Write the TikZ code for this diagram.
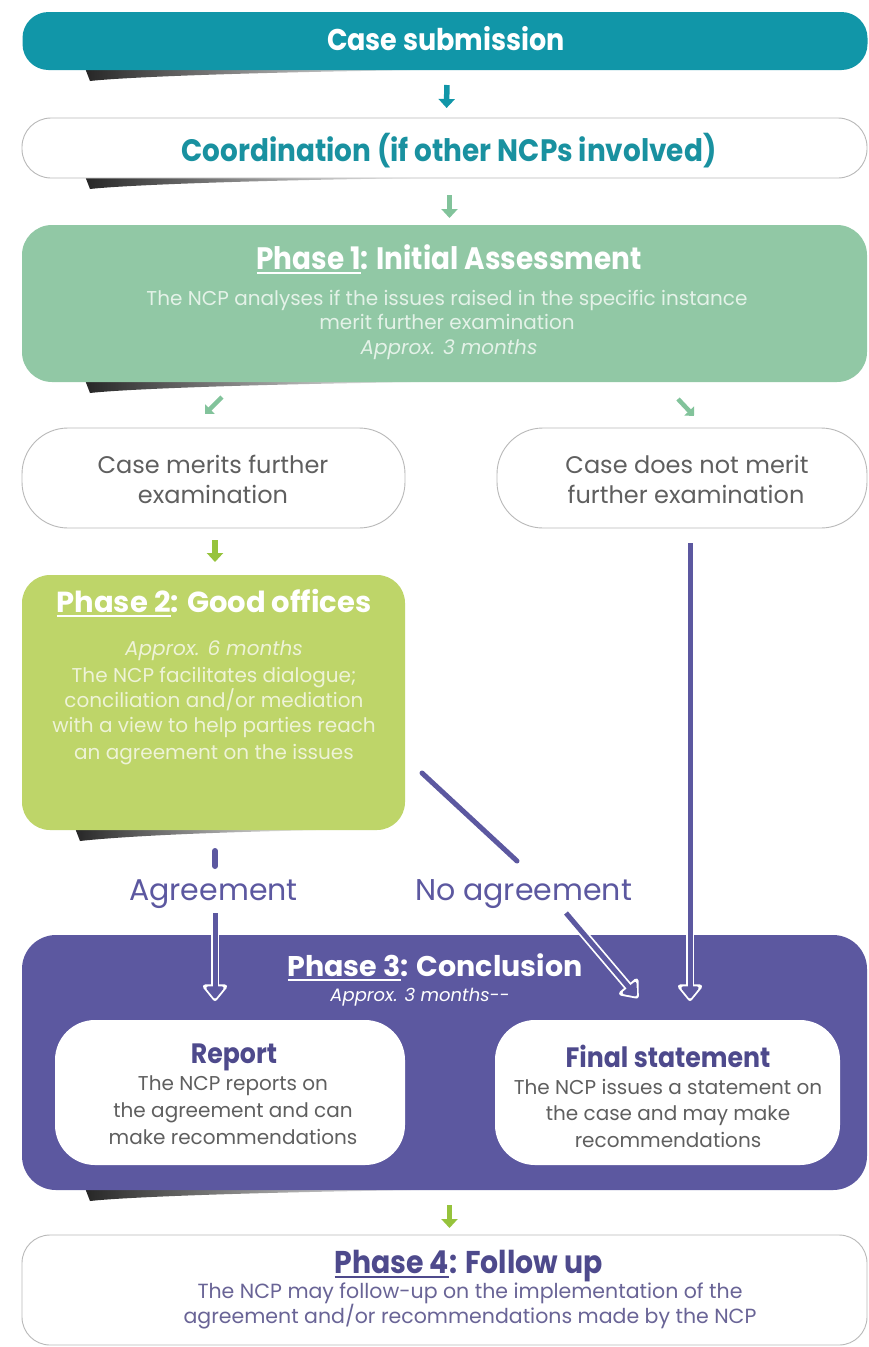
\documentclass[tikz,border=0pt]{standalone}
\usepackage{fontspec}
\setmainfont{Poppins}
\newfontfamily\cnd[FakeStretch=0.9]{Poppins}
\usetikzlibrary{arrows.meta,calc}
\definecolor{tealc}{RGB}{17,150,168}
\definecolor{coordtxt}{RGB}{25,145,160}
\definecolor{phonec}{RGB}{145,200,165}
\definecolor{arrlight}{RGB}{130,195,155}
\definecolor{phtwoc}{RGB}{190,213,105}
\definecolor{arrlime}{RGB}{150,195,60}
\definecolor{purp}{RGB}{92,88,160}
\definecolor{bord}{RGB}{185,185,185}
\definecolor{graytxt}{RGB}{95,95,95}
\definecolor{ttlpurp}{RGB}{78,74,140}
\definecolor{pfourtxt}{RGB}{105,100,150}
\definecolor{phonetxt}{RGB}{228,242,232}
\definecolor{phtwotxt}{RGB}{238,243,215}
\newcommand\ulx[1]{\setbox0\hbox{#1}\rlap{\rule[-4.5pt]{\wd0}{1.8pt}}#1}
\newcommand\shadowbar[3]{\shade[left color=black!85,right color=white] (#1,#3) -- (#2,#3) -- (#2,#3+2) .. controls ({(#1+#2)/2},#3+4) and ({#1+40},#3+9) .. (#1+5,#3+13) -- cycle;}
\begin{document}
\begin{tikzpicture}[x=1pt,y=-1pt,
  box/.style={inner sep=0pt, outer sep=0pt},
  tx/.style={inner sep=0pt, anchor=base},
  sarr/.style={line width=5.5pt, -{Triangle[width=16pt,length=9pt]}},
  darr/.style={line width=4.5pt, -{Triangle[width=13pt,length=7pt]}},
  pline/.style={purp, line width=5pt, line cap=round}]
\useasboundingbox (0,0) rectangle (869,1347);
\fill[white] (0,0) rectangle (869,1347);
% shadows
\shadowbar{85}{430}{68}
\shadowbar{85}{430}{176}
\shadowbar{85}{430}{380}
\shadowbar{75}{330}{828}
\shadowbar{85}{430}{1188}
% boxes
\node[box, fill=tealc, minimum width=845pt, minimum height=58pt, rounded corners=26pt] (cs) at (445,41) {};
\node[box, draw=bord, line width=0.9pt, fill=white, minimum width=845pt, minimum height=60pt, rounded corners=29pt] (co) at (444.5,148) {};
\node[box, fill=phonec, minimum width=845pt, minimum height=157pt, rounded corners=30pt] (p1) at (444.5,303.5) {};
\node[box, draw=bord, line width=0.9pt, fill=white, minimum width=383pt, minimum height=100pt, rounded corners=46pt] (cm) at (213.5,478) {};
\node[box, draw=bord, line width=0.9pt, fill=white, minimum width=370pt, minimum height=100pt, rounded corners=46pt] (cn) at (682,478) {};
\node[box, fill=phtwoc, minimum width=383pt, minimum height=255pt, rounded corners=28pt] (p2) at (213.5,702.5) {};
\node[box, fill=purp, minimum width=845pt, minimum height=255pt, rounded corners=34pt] (p3) at (444.5,1062.5) {};
\node[box, fill=white, minimum width=350pt, minimum height=145pt, rounded corners=40pt] (rp) at (230,1092.5) {};
\node[box, fill=white, minimum width=345pt, minimum height=145pt, rounded corners=40pt] (fs) at (667.5,1092.5) {};
\node[box, draw=bord, line width=0.9pt, fill=white, minimum width=845pt, minimum height=110pt, rounded corners=28pt] (p4) at (444.5,1290) {};
% texts
\node[tx, white, font={\cnd\bfseries\fontsize{30}{32}\selectfont}] (t0) at (446,50.5) {Case submission};
\node[tx, coordtxt, font={\cnd\bfseries\fontsize{31}{33}\selectfont}] (t1) at (449,161) {Coordination (if other NCPs involved)};
\node[tx, white, font={\cnd\bfseries\fontsize{31}{33}\selectfont}] (t2) at (449,269) {\ulx{Phase 1}: Initial Assessment};
\node[tx, phonetxt, font={\fontsize{20}{22}\selectfont}] (t3) at (447,305) {The NCP analyses if the issues raised in the specific instance};
\node[tx, phonetxt, font={\fontsize{20}{22}\selectfont}] (t4) at (447,329) {merit further examination};
\node[tx, phonetxt, font={\itshape\fontsize{20}{22}\selectfont}] (t5) at (449,354) {Approx. 3 months};
\node[tx, graytxt, font={\fontsize{24}{26}\selectfont}] (t6) at (213,473) {Case merits further};
\node[tx, graytxt, font={\fontsize{24}{26}\selectfont}] (t7) at (213,503) {examination};
\node[tx, graytxt, font={\fontsize{24}{26}\selectfont}] (t8) at (687,473) {Case does not merit};
\node[tx, graytxt, font={\fontsize{24}{26}\selectfont}] (t9) at (686,503) {further examination};
\node[tx, white, font={\bfseries\fontsize{29}{31}\selectfont}] (t10) at (214,612) {\ulx{Phase 2}: Good offices};
\node[tx, phtwotxt, font={\itshape\fontsize{20}{22}\selectfont}] (t11) at (214,655) {Approx. 6 months};
\node[tx, phtwotxt, font={\fontsize{20}{22}\selectfont}] (t12) at (214,682) {The NCP facilitates dialogue;};
\node[tx, phtwotxt, font={\fontsize{20}{22}\selectfont}] (t13) at (214,707) {conciliation and/or mediation};
\node[tx, phtwotxt, font={\fontsize{20}{22}\selectfont}] (t14) at (214,732) {with a view to help parties reach};
\node[tx, phtwotxt, font={\fontsize{20}{22}\selectfont}] (t15) at (214,759) {an agreement on the issues};
\node[tx, purp, font={\fontsize{30}{32}\selectfont}] (t16) at (213.5,900.5) {Agreement};
\node[tx, purp, font={\fontsize{30}{32}\selectfont}] (t17) at (523.5,900.5) {No agreement};
\node[tx, white, font={\bfseries\fontsize{28.5}{30}\selectfont}] (t18) at (435,976) {\ulx{Phase 3}: Conclusion};
\node[tx, white, font={\itshape\fontsize{18}{20}\selectfont}] (t19) at (420,1001) {Approx. 3 months{-}{-}};
\node[tx, ttlpurp, font={\cnd\bfseries\fontsize{28}{30}\selectfont}] (t20) at (234,1063) {Report};
\node[tx, graytxt, font={\fontsize{20}{22}\selectfont}] (t21) at (233,1090) {The NCP reports on};
\node[tx, graytxt, font={\fontsize{20}{22}\selectfont}] (t22) at (233,1117) {the agreement and can};
\node[tx, graytxt, font={\fontsize{20}{22}\selectfont}] (t23) at (233,1144) {make recommendations};
\node[tx, ttlpurp, font={\cnd\bfseries\fontsize{28}{30}\selectfont}] (t24) at (668,1067) {Final statement};
\node[tx, graytxt, font={\fontsize{20}{22}\selectfont}] (t25) at (668,1094) {The NCP issues a statement on};
\node[tx, graytxt, font={\fontsize{20}{22}\selectfont}] (t26) at (668,1120) {the case and may make};
\node[tx, graytxt, font={\fontsize{20}{22}\selectfont}] (t27) at (668,1147) {recommendations};
\node[tx, ttlpurp, font={\cnd\bfseries\fontsize{31.5}{33}\selectfont}] (t28) at (468.5,1273) {\ulx{Phase 4}: Follow up};
\node[tx, pfourtxt, font={\fontsize{20.5}{22}\selectfont}] (t29) at (470,1298) {The NCP may follow-up on the implementation of the};
\node[tx, pfourtxt, font={\fontsize{20.5}{22}\selectfont}] (t30) at (470,1323) {agreement and/or recommendations made by the NCP};
% small arrows
\draw[sarr, tealc, shorten <=15pt, shorten >=10pt] ([xshift=2pt]cs.south) -- ([xshift=2pt]co.north);
\draw[sarr, arrlight, shorten <=17pt, shorten >=7pt] ([xshift=5pt]co.south) -- ([xshift=5pt]p1.north);
\coordinate (d1s) at (222,397);
\coordinate (d1e) at (205,414);
\coordinate (d2s) at (678,399);
\coordinate (d2e) at (694,416);
\draw[darr, arrlight] (d1s) -- (d1e);
\draw[darr, arrlight] (d2s) -- (d2e);
\draw[sarr, arrlime, shorten <=12pt, shorten >=13pt] ([xshift=1.5pt]cm.south) -- ([xshift=1.5pt]p2.north);
\draw[sarr, arrlime, shorten <=15pt, shorten >=7pt] ([xshift=5pt]p3.south) -- ([xshift=5pt]p4.north);
% purple connectors
\coordinate (ag0) at (215,851);
\coordinate (ag1) at (215,866);
\coordinate (ag2) at (215,913);
\coordinate (ag3) at (215,1001);
\coordinate (na0) at (422,773);
\coordinate (na1) at (517,861);
\coordinate (na2) at (566,913);
\coordinate (na3) at (638,998);
\coordinate (rt0) at (690,543);
\coordinate (rt1) at (690,1001);
\draw[pline, line width=6pt] (ag0) -- (ag1);
\draw[pline] (na0) -- (na1);
\foreach \a/\b in {ag2/ag3, na2/na3, rt0/rt1}{
  \draw[white, line width=8.5pt, -{Triangle[width=28pt,length=18pt,round]}] (\a) -- (\b);
  \draw[purp, line width=5pt, shorten >=2.6pt, -{Triangle[width=20pt,length=13pt,round]}] (\a) -- (\b);
}
\end{tikzpicture}
\end{document}
